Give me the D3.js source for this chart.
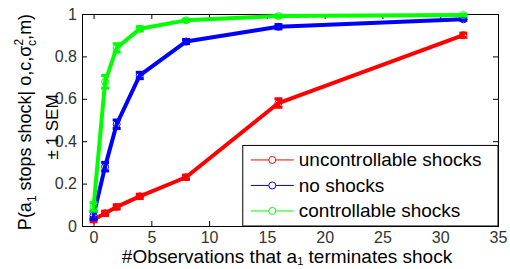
<!DOCTYPE html>
<html>
<head>
<meta charset="utf-8">
<script src="https://d3js.org/d3.v7.min.js"></script>
<style>
  body { margin: 0; background: #fff; }
  svg { display: block; font-family: Arial, "Liberation Sans", sans-serif; }
</style>
</head>
<body>
<div class="chart-container"></div>
<script>
// Observation counts and mean probabilities per group
const obs = [0, 1, 2, 4, 8, 16, 32];
const uncontrollable = [0.03, 0.06, 0.09, 0.14, 0.23, 0.58, 0.90];
const noShocks = [0.05, 0.28, 0.48, 0.71, 0.87, 0.94, 0.975];
const controllable = [0.09, 0.68, 0.84, 0.93, 0.97, 0.99, 0.995];
// standard error of the mean
const semUncontrollable = [0.01, 0.01, 0.01, 0.01, 0.01, 0.02, 0.01];
const semNoShocks = [0.02, 0.02, 0.02, 0.015, 0.01, 0.01, 0.005];
const semControllable = [0.02, 0.03, 0.02, 0.01, 0.005, 0.005, 0.003];
const seriesNames = ['uncontrollable shocks', 'no shocks', 'controllable shocks'];
const seriesColors = ['#ff0000', '#0000ff', '#00ff00'];
const xTicks = [0, 5, 10, 15, 20, 25, 30, 35];
const yTicks = [0, 0.2, 0.4, 0.6, 0.8, 1];

const series = [
    { name: seriesNames[0], color: seriesColors[0], values: uncontrollable, sem: semUncontrollable },
    { name: seriesNames[1], color: seriesColors[1], values: noShocks, sem: semNoShocks },
    { name: seriesNames[2], color: seriesColors[2], values: controllable, sem: semControllable }
];

const W = 510, H = 269;
const margin = { top: 14, right: 12, bottom: 43, left: 82 },
    width = W - margin.left - margin.right,
    height = H - margin.top - margin.bottom;

const svg = d3.select('.chart-container')
    .append('svg')
    .attr('width', W)
    .attr('height', H);
const g = svg.append('g')
    .attr('transform', `translate(${margin.left},${margin.top})`);

const x = d3.scaleLinear().domain([-1, 35]).range([0, width]);
const y = d3.scaleLinear().domain([0, 1]).range([height, 0]);

// Axes (ticks pointing inward, MATLAB style)
const xAxis = g.append('g')
    .attr('transform', `translate(0,${height})`)
    .call(d3.axisBottom(x).tickValues(xTicks).tickSize(-5).tickPadding(6));
const yAxis = g.append('g')
    .call(d3.axisLeft(y).tickValues(yTicks).tickSize(-5).tickPadding(5).tickFormat(d3.format('~g')));
g.append('g')
    .attr('transform', `translate(${width},0)`)
    .call(d3.axisRight(y).tickValues(yTicks).tickSize(-5).tickFormat(''));
g.append('g')
    .call(d3.axisTop(x).tickValues(xTicks).tickSize(-5).tickFormat(''));

g.selectAll('.domain').attr('stroke', '#000').attr('stroke-width', 1);
g.selectAll('.tick line').attr('stroke', '#000');
[xAxis, yAxis].forEach(a => a.selectAll('text')
    .attr('font-size', 16)
    .attr('fill', '#333'));

// Lines, error bars and markers
series.forEach(s => {
    const pts = obs.map((o, i) => ({ o, v: s.values[i], e: s.sem[i] }));
    g.append('path')
        .datum(pts)
        .attr('fill', 'none')
        .attr('stroke', s.color)
        .attr('stroke-width', 4)
        .attr('stroke-linejoin', 'round')
        .attr('d', d3.line().x(d => x(d.o)).y(d => y(d.v)));

    const eb = g.append('g');
    eb.selectAll('line.bar')
        .data(pts)
        .enter()
        .append('line')
        .attr('x1', d => x(d.o)).attr('x2', d => x(d.o))
        .attr('y1', d => y(d.v - d.e)).attr('y2', d => y(d.v + d.e))
        .attr('stroke', s.color).attr('stroke-width', 3);
    eb.selectAll('line.cap')
        .data(pts.flatMap(d => [{ o: d.o, v: d.v - d.e }, { o: d.o, v: d.v + d.e }]))
        .enter()
        .append('line')
        .attr('x1', d => x(d.o) - 4).attr('x2', d => x(d.o) + 4)
        .attr('y1', d => y(d.v)).attr('y2', d => y(d.v))
        .attr('stroke', s.color).attr('stroke-width', 3);

    g.append('g')
        .selectAll('circle')
        .data(pts)
        .enter()
        .append('circle')
        .attr('cx', d => x(d.o))
        .attr('cy', d => y(d.v))
        .attr('r', 3.5)
        .attr('fill', 'none')
        .attr('stroke', s.color)
        .attr('stroke-width', 1);
});

// Legend
const legend = g.append('g').attr('transform', `translate(${x(13) - 1},${y(0.38)})`);
const lgW = width - (x(13) - 1), lgH = height - y(0.38);
legend.append('rect')
    .attr('width', lgW).attr('height', lgH)
    .attr('fill', '#fff').attr('stroke', '#000').attr('stroke-width', 1);
series.forEach((s, i) => {
    const row = legend.append('g').attr('transform', `translate(0,${14.5 + i * 25.5})`);
    row.append('line')
        .attr('x1', 8).attr('x2', 51)
        .attr('stroke', s.color).attr('stroke-width', 1);
    row.append('circle')
        .attr('cx', 29.5).attr('r', 3.5)
        .attr('fill', '#fff').attr('stroke', s.color);
    row.append('text')
        .attr('x', 56).attr('y', 6.5)
        .attr('font-size', 19)
        .attr('fill', '#000')
        .text(s.name);
});

// Axis labels
const xl = svg.append('text')
    .attr('x', 287)
    .attr('y', 263)
    .attr('text-anchor', 'middle')
    .attr('font-size', 19)
    .attr('fill', '#000');
xl.append('tspan').text('#Observations that a');
xl.append('tspan').attr('font-size', 11).attr('dy', 2).text('1');
xl.append('tspan').attr('dy', -2).text(' terminates shock');

const yl = svg.append('text')
    .attr('transform', `translate(31,122) rotate(-90)`)
    .attr('text-anchor', 'middle')
    .attr('font-size', 18)
    .attr('fill', '#000');
yl.append('tspan').text('P(a');
yl.append('tspan').attr('font-size', 12).attr('dy', 5).text('1');
yl.append('tspan').attr('dy', -5).text(' stops shock| o,c,σ');
yl.append('tspan').attr('font-size', 12).attr('dy', -8).text('2');
yl.append('tspan').attr('font-size', 12).attr('dy', 13).attr('dx', -7).text('c');
yl.append('tspan').attr('dy', -5).text(',m)');

svg.append('text')
    .attr('transform', `translate(58,127) rotate(-90)`)
    .attr('text-anchor', 'middle')
    .attr('font-size', 17)
    .attr('fill', '#000')
    .text('± 1 SEM');
</script>
</body>
</html>
